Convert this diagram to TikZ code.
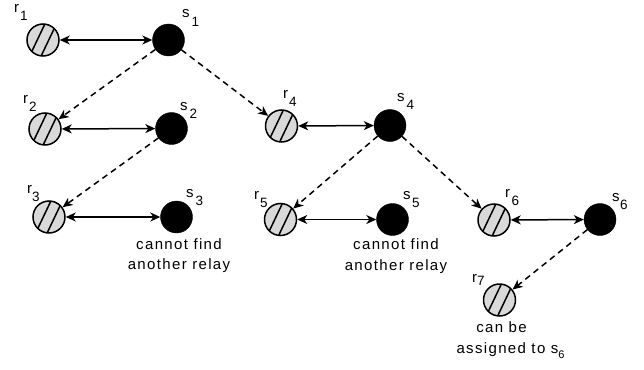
\documentclass[tikz,border=0pt]{standalone}
\usepackage{fontspec}
\setmainfont{Liberation Sans}
\usetikzlibrary{arrows.meta}
\newcommand\sublab[3]{#1\hspace{#3}\raisebox{-8.5pt}{\fontsize{13.5}{13.5}\selectfont #2}}
\tikzset{
  hatchline/.style={line width=1.5pt},
  relay/.style={circle, draw, line width=1.5pt, fill=black!15, minimum size=32pt, inner sep=0pt,
    path picture={
      \draw[hatchline] ([shift={(-4.7,-2.2)}]path picture bounding box.center) ++(-10,21) -- ++(20,-42);
      \draw[hatchline] ([shift={(4.7,2.2)}]path picture bounding box.center) ++(-10,21) -- ++(20,-42);
    }},
  src/.style={circle, fill=black, draw=black, minimum size=32pt, inner sep=0pt},
  tip/.tip={Stealth[length=10pt,width=9pt,inset=3pt]},
  link/.style={line width=1.5pt, tip-tip},
  assign/.style={line width=1.5pt, dash pattern=on 6pt off 4.5pt, -tip},
  lbl/.style={inner sep=0pt, anchor=base west, font=\fontsize{15}{15}\selectfont},
  note/.style={inner sep=0pt, align=center, font=\fontsize{15}{20.5}\selectfont\addfontfeature{LetterSpace=9}}
}
\begin{document}
\begin{tikzpicture}[x=1pt,y=-1pt]
\useasboundingbox (0,0) rectangle (644,369);
% relays
\node[relay] (r1) at (43,40) {};
\node[relay] (r2) at (45,129) {};
\node[relay] (r3) at (49,217) {};
\node[relay] (r4) at (281.5,126) {};
\node[relay] (r5) at (280.5,219.5) {};
\node[relay] (r6) at (494,220) {};
\node[relay] (r7) at (499.5,300) {};
% sources
\node[src] (s1) at (168.5,40) {};
\node[src] (s2) at (171.5,128.5) {};
\node[src] (s3) at (176.5,217) {};
\node[src] (s4) at (390,125.5) {};
\node[src] (s5) at (392.5,219.5) {};
\node[src] (s6) at (600,219.5) {};
% labels
\node[lbl] (lr1) at (14,12.5) {\sublab{r}{1}{1pt}};
\node[lbl] (lr2) at (23,103) {\sublab{r}{2}{1pt}};
\node[lbl] (lr3) at (27,193) {\sublab{r}{3}{0pt}};
\node[lbl] (lr4) at (283,98) {\sublab{r}{4}{1pt}};
\node[lbl] (lr5) at (254,199) {\sublab{r}{5}{1pt}};
\node[lbl] (lr6) at (505,197) {\sublab{r}{6}{1.5pt}};
\node[lbl] (lr7) at (472,282) {r\hspace{0pt}\raisebox{-3pt}{\fontsize{13.5}{13.5}\selectfont 7}};
\node[lbl] (ls1) at (182,18) {\sublab{s}{1}{2pt}};
\node[lbl] (ls2) at (180,110) {\sublab{s}{2}{2pt}};
\node[lbl] (ls3) at (186,197) {\sublab{s}{3}{2pt}};
\node[lbl] (ls4) at (397,101) {\sublab{s}{4}{2pt}};
\node[lbl] (ls5) at (403,199) {\sublab{s}{5}{1.5pt}};
\node[lbl] (ls6) at (612,201) {\sublab{s}{6}{0.5pt}};
% notes
\node[note] (n3) at (179,255.5) {cannot find\\another relay};
\node[note] (n5) at (396,256) {cannot find\\another relay};
\node[note] (n7) at (510.5,340) {can be\hspace*{18pt}\\assigned to s\raisebox{-5pt}{\fontsize{11}{11}\selectfont 6}};
% links
\draw[link] (r1) -- (s1);
\draw[link] (r2) -- (s2);
\draw[link] (r3) -- (s3);
\draw[link] (r4) -- (s4);
\draw[link] (r5) -- (s5);
\draw[link] (r6) -- (s6);
% assignments
\draw[assign] (s1) -- (r2);
\draw[assign] (s1) -- (r4);
\draw[assign] (s2) -- (r3);
\draw[assign] (s4) -- (r5);
\draw[assign] (s4) -- (r6);
\draw[assign] (s6) -- (r7);
\end{tikzpicture}
\end{document}
